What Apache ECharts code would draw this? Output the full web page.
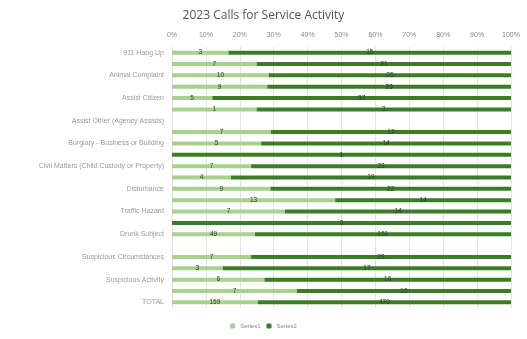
<!DOCTYPE html>
<html>
<head>
<meta charset="utf-8">
<script src="https://cdn.jsdelivr.net/npm/echarts@6/dist/echarts.min.js"></script>
<style>
  html, body { margin: 0; padding: 0; background: #fff; }
  #chart { width: 527px; height: 339px; }
</style>
</head>
<body>
<div id="chart"></div>
<script>
// categories top to bottom (odd rows have their labels hidden, like the original)
var categories = [
  '911 Hang Up', 'Alarm', 'Animal Complaint', 'Assault', 'Assist Citizen', 'Assist Fire/EMS',
  'Assist Other (Agency Assists)', 'Breaking & Entering', 'Burglary - Business or Building', 'Check Welfare',
  'Civil Matters (Child Custody or Property)', 'Damage to Property', 'Disturbance', 'Domestic',
  'Traffic Hazard', 'Harassment', 'Drunk Subject', 'Noise Complaint', 'Suspicious Circumstances',
  'Suspicious Person', 'Suspicious Activity', 'Theft', 'TOTAL'
]
// counts shown as labels (null = no data in that row)
var series1 = [3, 7, 10, 9, 5, 1, null, 7, 5, 0, 7, 4, 9, 13, 7, 0, 49, null, 7, 3, 6, 7, 159]
var series2 = [15, 21, 25, 23, 37, 3, null, 17, 14, 1, 23, 19, 22, 14, 14, 3, 151, null, 23, 17, 16, 12, 470]
var xTicks = [0, 10, 20, 30, 40, 50, 60, 70, 80, 90, 100]

// 100% stacked: turn counts into shares
function share(a, b) {
  return a.map(function(v, i) {
    if (v === null || b[i] === null) return null
    return { value: v / (v + b[i]) * 100, count: v }
  })
}
var pct1 = share(series1, series2)
var pct2 = share(series2, series1)

var chart = echarts.init(document.getElementById('chart'))
var labelStyle = {
  show: true,
  position: 'inside',
  fontSize: 6.5,
  color: '#333',
  formatter: function(p) {
    return p.data && p.data.count ? p.data.count : ''
  }
}
chart.setOption({
  animation: false,
  title: {
    text: '2023 Calls for Service Activity',
    left: 'center',
    top: 5,
    textStyle: { fontSize: 12, fontWeight: 'normal', color: '#555', fontFamily: 'Open Sans' }
  },
  color: ['#a9d18e', '#3b7d26'],
  legend: {
    bottom: 5,
    left: 'center',
    itemWidth: 5,
    itemHeight: 5,
    itemGap: 6,
    textStyle: { fontSize: 6, color: '#888' },
    data: ['Series1', 'Series2']
  },
  grid: { left: 172, right: 16, top: 47, bottom: 31 },
  xAxis: {
    type: 'value',
    position: 'top',
    min: xTicks[0],
    max: xTicks[xTicks.length - 1],
    interval: 10,
    axisLine: { show: false },
    axisTick: { show: false },
    axisLabel: { formatter: '{value}%', fontSize: 7, color: '#888', margin: 8 },
    splitLine: { lineStyle: { color: '#e2e2e2' } }
  },
  yAxis: {
    type: 'category',
    inverse: true,
    data: categories,
    axisLine: { show: false },
    axisTick: { show: false },
    axisLabel: { interval: 1, fontSize: 7, color: '#999', margin: 8 }
  },
  series: [
    {
      name: 'Series1',
      type: 'bar',
      stack: 'total',
      barWidth: 4,
      data: pct1,
      label: labelStyle
    },
    {
      name: 'Series2',
      type: 'bar',
      stack: 'total',
      barWidth: 4,
      data: pct2,
      label: labelStyle
    }
  ]
})
</script>
</body>
</html>
